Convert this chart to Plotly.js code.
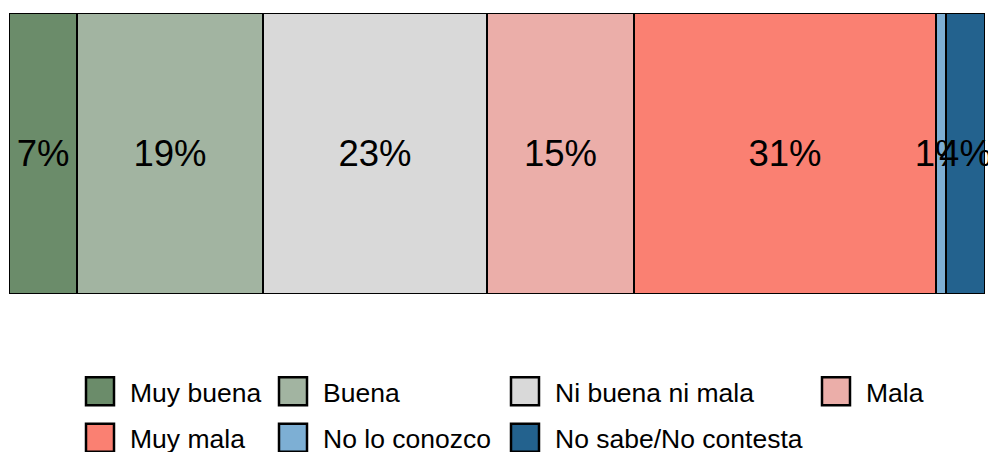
<!DOCTYPE html>
<html>
<head>
<meta charset="utf-8">
<script src="https://cdn.plot.ly/plotly-3.0.1.min.js"></script>
<style>html,body{margin:0;padding:0;background:#fff;}#chart{width:988px;height:452px;}</style>
</head>
<body>
<div id="chart"></div>
<script>
var categories = ["Muy buena", "Buena", "Ni buena ni mala", "Mala", "Muy mala", "No lo conozco", "No sabe/No contesta"];
var values = [7, 19, 23, 15, 31, 1, 4];
var colors = ["#6B8C6A", "#A2B4A1", "#D9D9D9", "#EBAEA9", "#FA8072", "#7DAFD4", "#23628E"];
var legendIds = ["legend", "legend2", "legend3", "legend4", "legend", "legend2", "legend3"];
var rowLabel = [""];

var traces = categories.map(function (c, i) {
  return {
    type: "bar",
    orientation: "h",
    name: c,
    y: rowLabel,
    x: [values[i]],
    width: 1,
    marker: { color: colors[i], line: { color: "#000", width: 2 } },
    text: [values[i] + "%"],
    textposition: "inside",
    insidetextanchor: "middle",
    textangle: 0,
    constraintext: "none",
    cliponaxis: false,
    textfont: { family: "Liberation Sans, Arial, sans-serif", size: 36.5, color: "#000" },
    hoverinfo: "name+x",
    legend: legendIds[i],
    legendgroup: "g" + i
  };
});

function leg(x) {
  return {
    orientation: "v", x: x, xanchor: "left", y: -0.262, yanchor: "top",
    traceorder: "grouped", tracegroupgap: 9, itemwidth: 50, maxheight: 300,
    font: { family: "Liberation Sans, Arial, sans-serif", size: 26.5, color: "#000" },
    bgcolor: "rgba(0,0,0,0)"
  };
}

var layout = {
  width: 988, height: 452,
  margin: { l: 9, r: 3, t: 13, b: 158, autoexpand: false },
  barmode: "stack",
  showlegend: true,
  paper_bgcolor: "#fff", plot_bgcolor: "#fff",
  xaxis: { range: [0, 100], visible: false, fixedrange: true },
  yaxis: { range: [-0.5, 0.5], visible: false, fixedrange: true },
  legend: leg((70 - 9) / 976),
  legend2: leg((263 - 9) / 976),
  legend3: leg((495 - 9) / 976),
  legend4: leg((806 - 9) / 976),
  font: { family: "Liberation Sans, Arial, sans-serif" }
};

Plotly.newPlot("chart", traces, layout, { displayModeBar: false, staticPlot: true }).then(function () {
  document.querySelectorAll("#chart .legendpoints path").forEach(function (p) {
    p.setAttribute("d", "M14,14H-14V-14H14Z");
    p.style.strokeWidth = "2.5px";
  });
});
</script>
</body>
</html>
